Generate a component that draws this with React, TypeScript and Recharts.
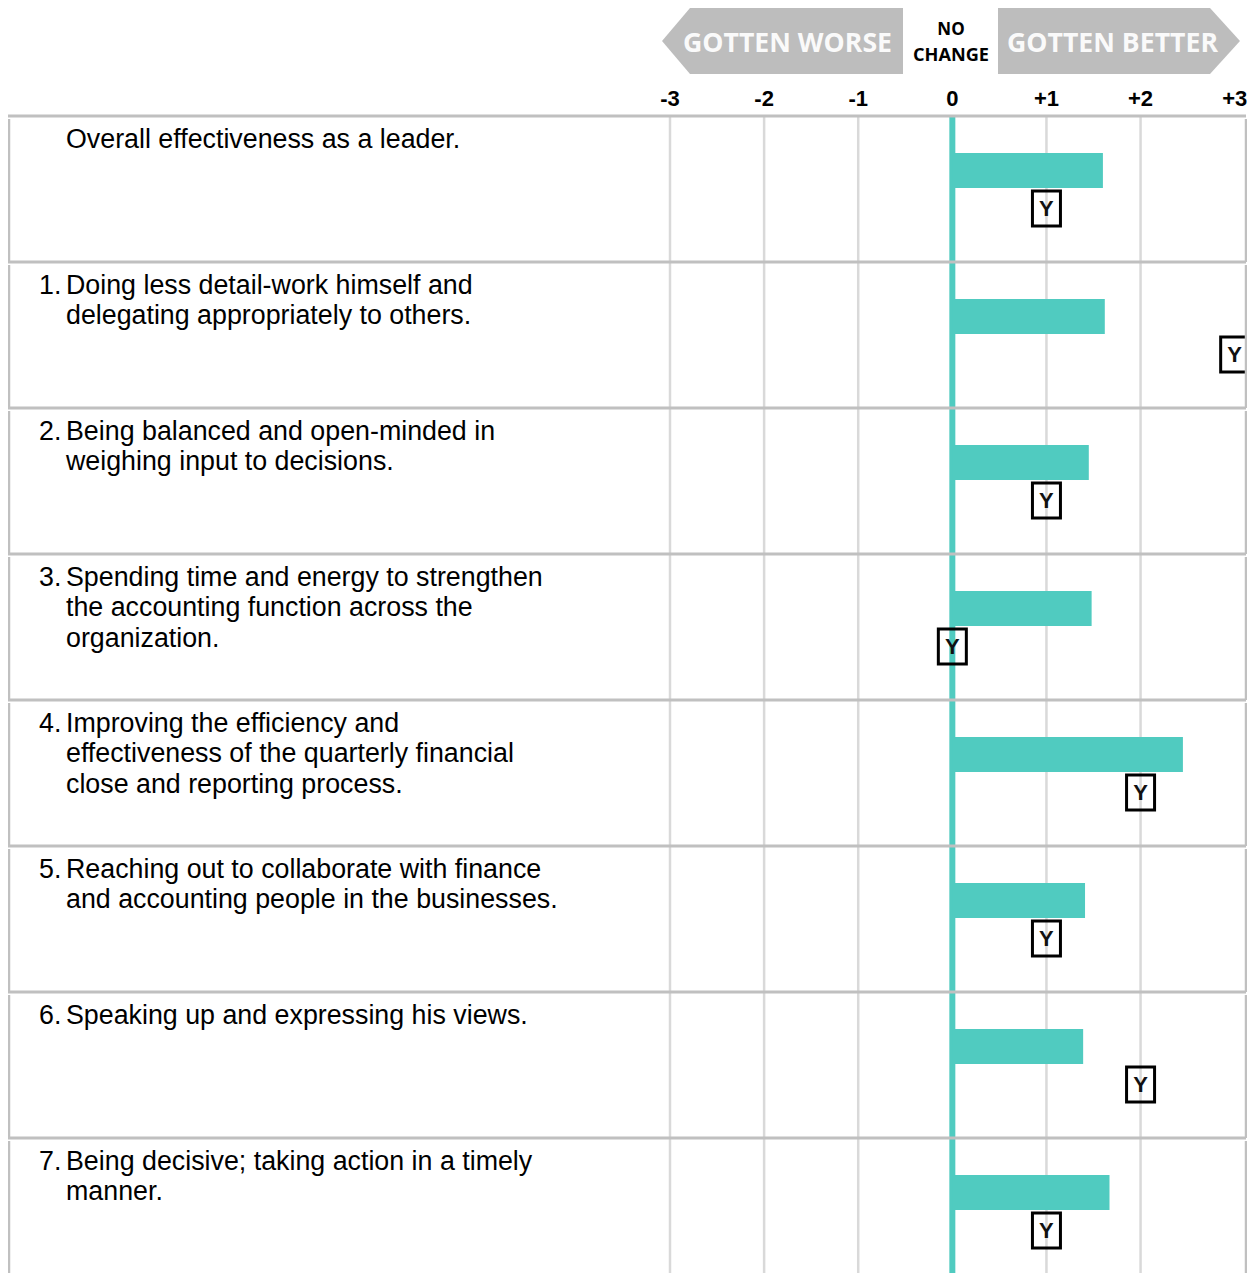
import * as React from "react";
import { Bar, CartesianGrid, ComposedChart, XAxis, YAxis } from "recharts";

// Survey rows: item number, wrapped label lines, average change score and self rating ("Y").
const rowNumbers = ["", "1.", "2.", "3.", "4.", "5.", "6.", "7."];
const rowLines = [
  ["Overall effectiveness as a leader."],
  ["Doing less detail-work himself and", "delegating appropriately to others."],
  ["Being balanced and open-minded in", "weighing input to decisions."],
  ["Spending time and energy to strengthen", "the accounting function across the", "organization."],
  ["Improving the efficiency and", "effectiveness of the quarterly financial", "close and reporting process."],
  ["Reaching out to collaborate with finance", "and accounting people in the businesses."],
  ["Speaking up and expressing his views."],
  ["Being decisive; taking action in a timely", "manner."],
];
const changeScores = [1.6, 1.62, 1.45, 1.48, 2.45, 1.41, 1.39, 1.67];
const selfScores = [1, 3, 1, 0, 2, 1, 2, 1];
const scaleTicks = [-3, -2, -1, 0, 1, 2, 3];
const gridTicks = [-3, -2, -1, 1, 2];
const zeroTick = [0];

const data = rowLines.map((_, i) => ({
  key: String(i),
  change: changeScores[i],
  self: selfScores[i],
}));

const CHART_W = 1247;
const CHART_H = 1276;
const LABEL_W = 662;
const BORDER_X = 1238; // right frame of the table
const ROW_H = 146;
const TEAL = "#50cbc0";
const BORDER = "#c0c0c0";
const ARIAL = "'Liberation Sans', Arial, sans-serif";
const OPEN = "'Open Sans', 'Noto Sans', sans-serif";

function ScoreTick({ x, payload }: any) {
  const v = payload.value;
  return (
    <text x={x} y={98} textAnchor="middle" fontFamily={ARIAL} fontWeight={700} fontSize={22} fill="#000">
      {v > 0 ? `+${v}` : String(v)}
    </text>
  );
}

function RowLabel({ y, payload }: any) {
  const i = Number(payload.value);
  const top = y - ROW_H / 2;
  return (
    <g>
      <line x1={0} x2={BORDER_X} y1={top} y2={top} stroke={BORDER} strokeWidth={3} />
      <line x1={1} x2={1} y1={top + 3} y2={top + ROW_H} stroke={BORDER} strokeWidth={2.5} />
      <line x1={BORDER_X} x2={BORDER_X} y1={top + 3} y2={top + ROW_H} stroke={BORDER} strokeWidth={2.5} />
      <text fontFamily={ARIAL} fontSize={26.8} fill="#000">
        {rowNumbers[i] && (
          <tspan x={31} y={top + 31.5}>
            {rowNumbers[i]}
          </tspan>
        )}
        {rowLines[i].map((line, j) => (
          <tspan key={j} x={58} y={top + 31.5 + j * 30.8}>
            {line}
          </tspan>
        ))}
      </text>
    </g>
  );
}

function SelfMark({ x, y, width }: any) {
  const cx = x + width;
  return (
    <g>
      <rect x={cx - 14} y={y} width={28} height={35} fill="none" stroke="#000" strokeWidth={3} />
      <text x={cx} y={y + 25} textAnchor="middle" fontFamily={ARIAL} fontWeight={700} fontSize={22} fill="#111">
        Y
      </text>
    </g>
  );
}

function Header() {
  return (
    <svg width={CHART_W} height={108} style={{ position: "absolute", left: 0, top: 0, pointerEvents: "none" }}>
      <polygon points="654,33 682,0 895,0 895,66 682,66" fill="#bdbdbd" />
      <polygon points="990,0 1202,0 1232,33 1202,66 990,66" fill="#bdbdbd" />
      <text x={779.5} y={44} textAnchor="middle" fontFamily={OPEN} fontWeight={700} fontSize={26} fill="#fafafa" textLength={209} lengthAdjust="spacingAndGlyphs">
        GOTTEN WORSE
      </text>
      <text x={1104.5} y={44} textAnchor="middle" fontFamily={OPEN} fontWeight={700} fontSize={26} fill="#fafafa" textLength={211} lengthAdjust="spacingAndGlyphs">
        GOTTEN BETTER
      </text>
      <text x={943} y={27} textAnchor="middle" fontFamily={OPEN} fontWeight={700} fontSize={17} fill="#000">
        NO
      </text>
      <text x={943} y={53} textAnchor="middle" fontFamily={OPEN} fontWeight={700} fontSize={17} fill="#000" textLength={76} lengthAdjust="spacingAndGlyphs">
        CHANGE
      </text>
    </svg>
  );
}

export default function App() {
  return (
    <div style={{ position: "relative", width: CHART_W, height: 1265, overflow: "hidden", background: "#fff" }}>
      <ComposedChart
        width={CHART_W}
        height={CHART_H}
        data={data}
        layout="vertical"
        margin={{ top: 0, right: 0, bottom: 0, left: 0 }}
        barGap={3}
      >
        <CartesianGrid horizontal={false} verticalValues={gridTicks} stroke="#d9d9d9" strokeWidth={2.5} />
        <CartesianGrid horizontal={false} verticalValues={zeroTick} stroke={TEAL} strokeWidth={6} />
        <XAxis
          type="number"
          orientation="top"
          domain={[-3, 3.216]}
          ticks={scaleTicks}
          height={108}
          axisLine={false}
          tickLine={false}
          tick={<ScoreTick />}
        />
        <YAxis
          type="category"
          dataKey="key"
          width={LABEL_W}
          axisLine={false}
          tickLine={false}
          interval={0}
          tick={<RowLabel />}
        />
        <Bar dataKey="change" fill={TEAL} barSize={35} isAnimationActive={false} />
        <Bar dataKey="self" fill="none" barSize={35} shape={<SelfMark />} isAnimationActive={false} />
      </ComposedChart>
      <Header />
    </div>
  );
}
